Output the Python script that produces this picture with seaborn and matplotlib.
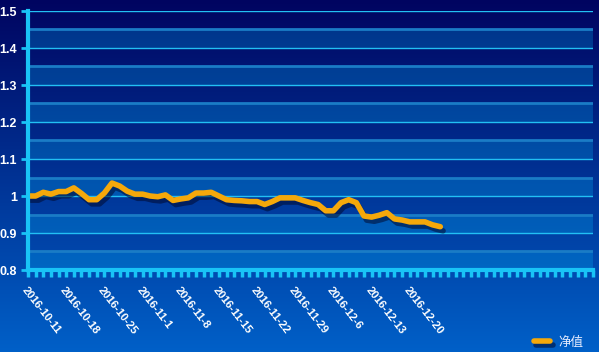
import numpy as np
import pandas as pd
import seaborn as sns
import matplotlib.pyplot as plt
from matplotlib import patheffects as pe
from matplotlib.lines import Line2D

sns.set_style("white")
plt.rcParams['font.family'] = ['Liberation Sans', 'Noto Sans CJK SC', 'DejaVu Sans']

# trading days starting 2016-10-11
dates = pd.bdate_range("2016-10-11", periods=55)
date_labels = [f"{d.year}-{d.month}-{d.day}" for d in dates]

# net value (净值)
nav = [1.000, 1.000, 1.010, 1.005, 1.012, 1.012, 1.022, 1.007, 0.990, 0.990,
       1.008, 1.035, 1.027, 1.013, 1.005, 1.005, 1.000, 0.998, 1.003, 0.988,
       0.992, 0.995, 1.008, 1.008, 1.010, 1.000, 0.990, 0.988, 0.987, 0.985,
       0.985, 0.977, 0.985, 0.995, 0.995, 0.995, 0.988, 0.982, 0.977, 0.960,
       0.960, 0.982, 0.990, 0.982, 0.946, 0.943, 0.948, 0.955, 0.938, 0.935,
       0.930, 0.930, 0.930, 0.922, 0.917]

n_slots = 75  # category slots on the x axis
df = pd.DataFrame({"idx": range(len(nav)), "nav": nav})

fig = plt.figure(figsize=(5.99, 3.52), dpi=100)

# gradient background
bg = fig.add_axes([0, 0, 1, 1], zorder=0)
top = np.array([0, 4, 96]) / 255
bot = np.array([0, 96, 200]) / 255
t = np.linspace(0, 1, 256)[:, None]
grad = (top * (1 - t) + bot * t)[:, None, :]
bg.imshow(grad, aspect="auto", extent=[0, 1, 0, 1])
bg.axis("off")

ax = fig.add_axes([28 / 599, 82 / 352, 565 / 599, 259 / 352], zorder=1)
ax.set_facecolor("none")

# split area bands and grid lines
for k in range(7):
    lo = 0.8 + 0.1 * k
    ax.axhspan(lo, lo + 0.05, color=(0, 0.75, 1.0), alpha=0.24, lw=0, zorder=0)
    ax.axhline(lo + 0.05, color="#1a7cc6", lw=2, zorder=0.5)
for k in range(8):
    ax.axhline(0.8 + 0.1 * k, color="#22c0f4", lw=1, zorder=0.6)

sns.lineplot(data=df, x="idx", y="nav", ax=ax, color="#f5a80a", lw=4,
             zorder=3, legend=False,
             path_effects=[pe.SimpleLineShadow(offset=(2, -3), shadow_color="#000a30", alpha=0.55),
                           pe.Normal()])

ax.set_xlim(0, n_slots - 1)
ax.set_ylim(0.8, 1.5)
ax.set_xlabel("")
ax.set_ylabel("")

xt_labels = [date_labels[i] if (i < len(date_labels) and i % 5 == 0) else "" for i in range(n_slots)]
ax.set_xticks(range(n_slots))
ax.set_xticklabels(xt_labels, rotation=-52, ha="left", va="top", rotation_mode="anchor",
                   color="white", fontsize=8, fontweight="bold")
yt = [0.8, 0.9, 1.0, 1.1, 1.2, 1.3, 1.4, 1.5]
ax.set_yticks(yt)
ax.set_yticklabels(["0.8", "0.9", "1", "1.1", "1.2", "1.3", "1.4", "1.5"],
                   color="white", fontsize=9, fontweight="bold")
ax.tick_params(axis="x", bottom=True, direction="out", length=5, width=2.5, color="#19c4f6", pad=6)
ax.tick_params(axis="y", left=True, direction="out", length=5, width=2, color="#19c4f6", pad=3)

for s in ["top", "right"]:
    ax.spines[s].set_visible(False)
for s in ["left", "bottom"]:
    ax.spines[s].set_color("#19c4f6")
    ax.spines[s].set_linewidth(3)
    ax.spines[s].set_zorder(4)

handle = Line2D([], [], color="#f5a80a", lw=4,
                path_effects=[pe.SimpleLineShadow(offset=(2, -3), shadow_color="#000a30", alpha=0.55),
                              pe.Normal()])
fig.legend([handle], ["净值"], loc="lower right", bbox_to_anchor=(0.993, -0.022),
           frameon=False, fontsize=9, labelcolor="#e6ecff", handlelength=1.3,
           handletextpad=0.7)

fig.savefig("out.png", dpi=100)
